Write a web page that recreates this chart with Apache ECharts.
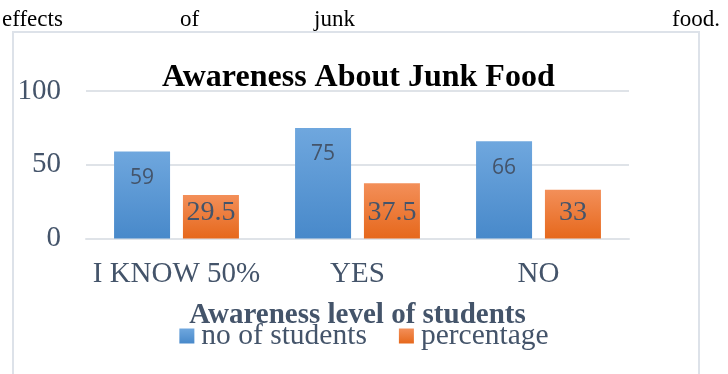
<!DOCTYPE html>
<html>
<head>
<meta charset="utf-8">
<script src="https://cdn.jsdelivr.net/npm/echarts@6/dist/echarts.min.js"></script>
<style>
  html, body { margin: 0; padding: 0; background: #ffffff; }
  #chart { width: 728px; height: 374px; }
</style>
</head>
<body>
<div id="chart"></div>
<script>
// Survey answers and the two measures shown for each
const categories = ['I KNOW 50%', 'YES', 'NO'];
const studentCounts = [59, 75, 66];
const percentages = [29.5, 37.5, 33];
const seriesNames = ['no of students', 'percentage'];

// Trailing words of the justified paragraph above the chart
const headerWords = ['effects', 'of', 'junk', 'food.'];
const headerX = [2, 180, 314, 720];

const SERIF = '"Liberation Serif", "Times New Roman", serif';
const SANS = '"Open Sans", "Liberation Sans", sans-serif';
const INK = '#44546a';

const blueFill = new echarts.graphic.LinearGradient(0, 0, 0, 1, [
  { offset: 0, color: '#6fa7de' },
  { offset: 1, color: '#4889ca' }
]);
const orangeFill = new echarts.graphic.LinearGradient(0, 0, 0, 1, [
  { offset: 0, color: '#f38f59' },
  { offset: 1, color: '#e6681c' }
]);

const chart = echarts.init(document.getElementById('chart'), null, { renderer: 'canvas' });

const headerText = headerWords.map((w, i) => ({
  type: 'text',
  x: headerX[i],
  y: 31,
  style: {
    text: w,
    font: '23px ' + SERIF,
    fill: '#000000',
    textAlign: i === headerWords.length - 1 ? 'right' : 'left',
    textVerticalAlign: 'bottom'
  }
}));

chart.setOption({
  animation: false,
  backgroundColor: '#ffffff',
  title: {
    text: 'Awareness About Junk Food',
    left: 157,
    top: 57,
    textStyle: { fontFamily: SERIF, fontSize: 32, fontWeight: 'bold', color: '#000000' }
  },
  graphic: [
    {
      type: 'rect',
      shape: { x: 13, y: 32, width: 686, height: 360 },
      style: { fill: 'none', stroke: '#dde2e9', lineWidth: 2 },
      z: -1
    },
    ...headerText
  ],
  legend: {
    data: seriesNames,
    left: 'center',
    top: 316,
    icon: 'rect',
    itemWidth: 15,
    itemHeight: 15,
    itemGap: 32,
    textStyle: { fontFamily: SERIF, fontSize: 29.5, color: INK, padding: [0, 0, 0, 2] }
  },
  grid: { left: 86, right: 99, top: 91, bottom: 135.5, containLabel: false },
  xAxis: {
    type: 'category',
    data: categories,
    name: 'Awareness level of students',
    nameLocation: 'middle',
    nameGap: 63,
    nameTextStyle: { fontFamily: SERIF, fontSize: 29, fontWeight: 'bold', color: INK },
    axisLine: { show: true, lineStyle: { color: '#dfe3e8', width: 2 } },
    axisTick: { show: false },
    axisLabel: { interval: 0, fontFamily: SERIF, fontSize: 29, color: INK, margin: 21 }
  },
  yAxis: {
    type: 'value',
    min: 0,
    max: 100,
    interval: 50,
    axisLine: { show: false },
    axisTick: { show: false },
    axisLabel: { fontFamily: SERIF, fontSize: 29, color: INK, margin: 25 },
    splitLine: { lineStyle: { color: '#dfe3e8', width: 2 } }
  },
  series: [
    {
      name: seriesNames[0],
      type: 'bar',
      data: studentCounts,
      barWidth: 56,
      barGap: '23%',
      itemStyle: { color: blueFill },
      label: {
        show: true,
        position: 'insideTop',
        distance: 16,
        fontFamily: SANS,
        fontSize: 21,
        color: INK
      }
    },
    {
      name: seriesNames[1],
      type: 'bar',
      data: percentages,
      barWidth: 56,
      itemStyle: { color: orangeFill },
      label: {
        show: true,
        position: 'insideBottom',
        distance: 12,
        fontFamily: SERIF,
        fontSize: 28,
        color: INK
      }
    }
  ]
});
</script>
</body>
</html>
